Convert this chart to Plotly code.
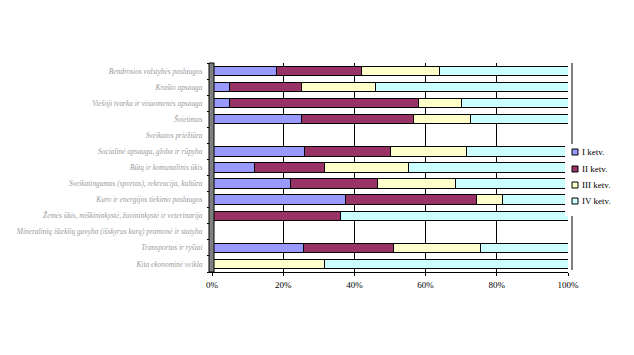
import plotly.graph_objects as go

categories = [
    "Bendrosios valstybės paslaugos",
    "Krašto apsauga",
    "Viešoji tvarka ir visuomenės apsauga",
    "Švietimas",
    "Sveikatos priežiūra",
    "Socialinė apsauga, globa ir rūpyba",
    "Būtų ir komunalinis ūkis",
    "Sveikatingumas (sportas), rekreacija, kultūra",
    "Kuro ir energijos tiekimo paslaugos",
    "Žemės ūkis, miškininkystė, žuvininkystė ir veterinarija",
    "Mineralinių išteklių gavyba (išskyrus kurą) pramonė ir statyba",
    "Transportas ir ryšiai",
    "Kita ekonominė veikla",
]
q1 = [18.0, 4.8, 4.8, 25.0, 0, 26.0, 11.8, 22.0, 37.6, 0, 0, 25.6, 0]
q2 = [24.0, 20.2, 53.2, 31.7, 0, 24.0, 19.7, 24.6, 36.6, 36.0, 0, 25.5, 0]
q3 = [22.0, 21.0, 12.0, 15.8, 0, 21.6, 23.8, 21.9, 7.3, 0, 0, 24.2, 31.5]
q4 = [36.0, 54.0, 30.0, 27.5, 0, 28.4, 44.7, 31.5, 18.5, 64.0, 0, 24.7, 68.5]
series_names = ["I ketv.", "II ketv.", "III ketv.", "IV ketv."]
x_ticks = [0, 20, 40, 60, 80, 100]
x_tick_labels = ["0%", "20%", "40%", "60%", "80%", "100%"]

colors = ["#9999FF", "#993366", "#FFFFCC", "#CCFFFF"]

OFF = 8  # page body margin
W, H = 634 - OFF, 355 - OFF
L, T = 212 - OFF, 63 - OFF
pw, ph = 356, 209
R = W - L - pw
B = H - T - ph


def px(x):
    return (x - OFF - L) / pw


def py(y):
    return (T + ph - (y - OFF)) / ph


fig = go.Figure()
for name, vals, col in zip(series_names, [q1, q2, q3, q4], colors):
    fig.add_trace(go.Bar(
        y=categories, x=vals, name=name, orientation="h",
        marker=dict(color=col, line=dict(color="black", width=1)),
        hovertemplate="%{y}: %{x}%<extra></extra>",
    ))

fig.update_layout(
    barmode="stack",
    bargap=0.42,
    width=W, height=H,
    margin=dict(l=L, r=R, t=T, b=B, autoexpand=False),
    plot_bgcolor="white", paper_bgcolor="white",
    showlegend=False,
    xaxis=dict(range=[0, 100], tickvals=x_ticks, ticktext=x_tick_labels,
               showgrid=True, gridcolor="black", gridwidth=1,
               showline=True, linecolor="black", linewidth=1,
               ticks="outside", ticklen=3, tickcolor="black", automargin=False,
               ticklabelstandoff=1,
               tickfont=dict(family="Liberation Serif", size=9, color="black"),
               zeroline=False),
    yaxis=dict(autorange="reversed", tickson="boundaries",
               ticks="outside", ticklen=4, tickcolor="black", automargin=False,
               ticklabelstandoff=7,
               showline=True, linecolor="black", linewidth=1,
               tickvals=categories,
               ticktext=["<i>" + c + "</i>" for c in categories],
               tickfont=dict(family="Liberation Serif", size=7.4, color="#9a9a9a"),
               showgrid=False),
)
# 3D wall / back edge
fig.add_shape(type="rect", xref="paper", yref="paper", x0=px(209), x1=px(214), y0=0, y1=1,
              fillcolor="#808080", line=dict(color="black", width=1), layer="above")
fig.add_shape(type="line", xref="paper", yref="paper", x0=px(572), x1=px(572),
              y0=py(270), y1=py(215), line=dict(color="black", width=1))
fig.add_shape(type="line", xref="paper", yref="paper", x0=px(572), x1=px(572),
              y0=py(145), y1=py(63), line=dict(color="black", width=1))

# legend
leg_y = [152, 169, 185, 201]
fig.add_shape(type="rect", xref="paper", yref="paper", x0=px(565), x1=px(632),
              y0=py(216), y1=py(144), fillcolor="white", line=dict(width=0), layer="above")
for name, col, yy in zip(series_names, colors, leg_y):
    fig.add_shape(type="rect", xref="paper", yref="paper",
                  x0=px(572), x1=px(578), y0=py(yy + 3), y1=py(yy - 3),
                  fillcolor=col, line=dict(color="black", width=1), layer="above")
    fig.add_annotation(x=px(580), y=py(yy), xref="paper", yref="paper", text=name,
                       showarrow=False, xanchor="left", yanchor="middle",
                       font=dict(family="Liberation Serif", size=9, color="black"))

fig.write_html("out.html")
